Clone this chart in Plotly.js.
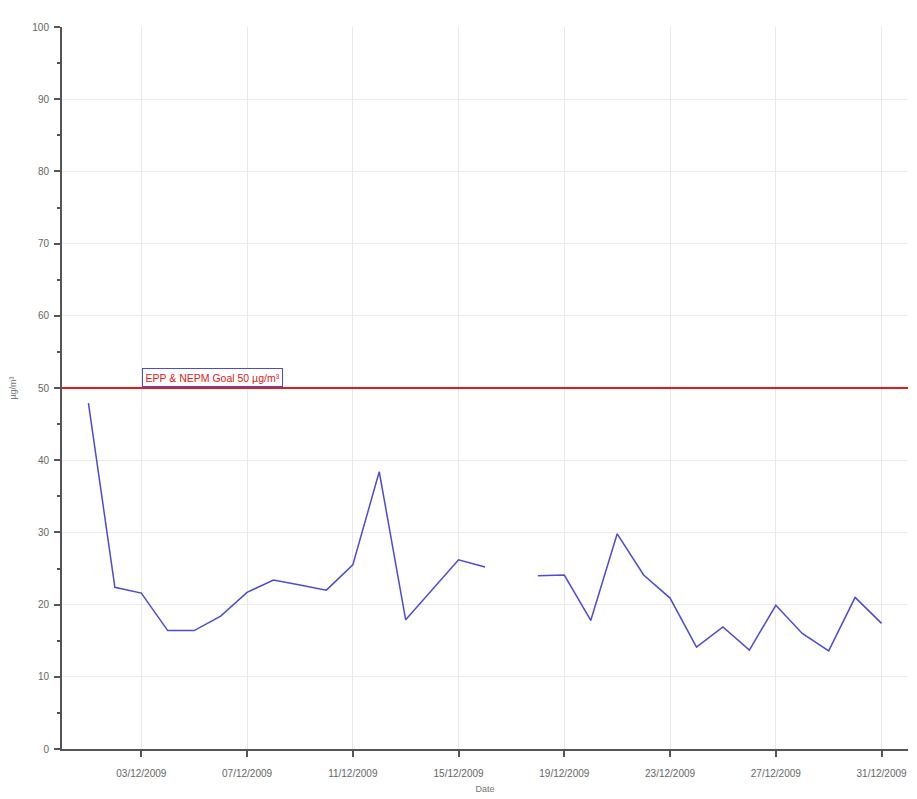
<!DOCTYPE html>
<html>
<head>
<meta charset="utf-8">
<script src="https://cdn.plot.ly/plotly-3.0.1.min.js"></script>
<style>html,body{margin:0;padding:0;background:#fff;}#chart{width:917px;height:799px;}</style>
</head>
<body>
<div id="chart"></div>
<script>
const dates = [
  '2009-12-01','2009-12-02','2009-12-03','2009-12-04','2009-12-05','2009-12-06','2009-12-07','2009-12-08',
  '2009-12-09','2009-12-10','2009-12-11','2009-12-12','2009-12-13','2009-12-14','2009-12-15','2009-12-16',
  '2009-12-17','2009-12-18','2009-12-19','2009-12-20','2009-12-21','2009-12-22','2009-12-23','2009-12-24',
  '2009-12-25','2009-12-26','2009-12-27','2009-12-28','2009-12-29','2009-12-30','2009-12-31'
];
const pm10 = [
  47.9, 22.4, 21.6, 16.4, 16.4, 18.4, 21.7, 23.4,
  22.7, 22.0, 25.5, 38.4, 17.9, 22.0, 26.2, 25.2,
  null, 24.0, 24.1, 17.8, 29.8, 24.1, 20.9, 14.1,
  16.9, 13.7, 19.9, 16.0, 13.6, 21.0, 17.4
];
const goalValue = 50;
const goalLabel = 'EPP & NEPM Goal 50 µg/m³';
const xRange = ['2009-11-30', '2010-01-01'];
const yRange = [0, 100];

const traces = [{
  x: dates, y: pm10, type: 'scatter', mode: 'lines',
  connectgaps: false,
  line: {color: '#4b4bd6', width: 1.5},
  hoverinfo: 'x+y'
}];

const axisFont = {family: 'Liberation Sans, Arial, sans-serif', size: 10, color: '#666'};

const layout = {
  width: 917, height: 799,
  margin: {l: 62, r: 9, t: 27, b: 50},
  paper_bgcolor: '#fff', plot_bgcolor: '#fff',
  showlegend: false,
  xaxis: {
    type: 'date', range: xRange,
    tick0: '2009-12-03', dtick: 4 * 86400000,
    tickformat: '%d/%m/%Y',
    ticks: 'outside', ticklen: 6, tickwidth: 2, tickcolor: '#555',
    ticklabelstandoff: 8,
    showline: true, linecolor: '#555', linewidth: 2,
    showgrid: true, gridcolor: '#e8e8e8', gridwidth: 1,
    zeroline: false,
    tickfont: axisFont,
    title: {text: 'Date', font: {family: 'Liberation Sans, Arial, sans-serif', size: 9, color: '#777'}, standoff: 8}
  },
  yaxis: {
    range: yRange, dtick: 10,
    ticks: 'outside', ticklen: 6, tickwidth: 2, tickcolor: '#555',
    ticklabelstandoff: 3,
    showline: true, linecolor: '#555', linewidth: 2,
    showgrid: true, gridcolor: '#ececec', gridwidth: 1,
    zeroline: false,
    tickfont: axisFont,
    minor: {dtick: 5, ticks: 'outside', ticklen: 3, tickwidth: 2, tickcolor: '#555', showgrid: false},
    title: {text: 'µg/m³', font: {family: 'Liberation Sans, Arial, sans-serif', size: 9, color: '#777'}, standoff: 14}
  },
  shapes: [{
    type: 'line', xref: 'paper', x0: 0, x1: 1, yref: 'y', y0: goalValue, y1: goalValue,
    line: {color: '#e21d1d', width: 2}
  }],
  annotations: [{
    x: '2009-12-03', y: goalValue, xref: 'x', yref: 'y',
    xanchor: 'left', yanchor: 'bottom',
    text: goalLabel, showarrow: false,
    font: {family: 'Liberation Sans, Arial, sans-serif', size: 10.5, color: '#e02020'},
    bgcolor: '#fff', bordercolor: '#4b4bd6', borderwidth: 1, borderpad: 2.5, xshift: 1, yshift: 1
  }]
};

Plotly.newPlot('chart', traces, layout, {displayModeBar: false, staticPlot: true});
</script>
</body>
</html>
